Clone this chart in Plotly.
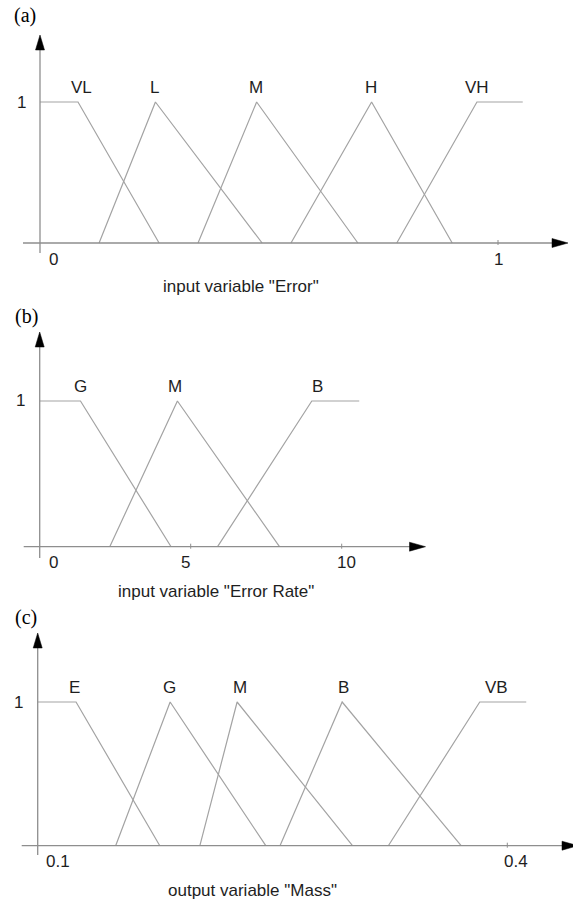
import plotly.graph_objects as go

W, H = 573, 902

# (a) input variable "Error"
err_names = ["VL", "L", "M", "H", "VH"]
err_x = [[0, 0.083, 0.26], [0.129, 0.252, 0.485], [0.345, 0.473, 0.694],
         [0.548, 0.724, 0.90], [0.779, 0.954, 1.054]]
err_y = [[1, 1, 0], [0, 1, 0], [0, 1, 0], [0, 1, 0], [0, 1, 1]]
err_label_x = [0.09, 0.249, 0.472, 0.723, 0.954]
err_ticks = [0, 1]
err_ticktext = ["0", "1"]

# (b) input variable "Error Rate"
rate_names = ["G", "M", "B"]
rate_x = [[0, 1.35, 4.35], [2.32, 4.56, 7.94], [5.89, 9.01, 10.58]]
rate_y = [[1, 1, 0], [0, 1, 0], [0, 1, 1]]
rate_label_x = [1.34, 4.48, 9.21]
rate_ticks = [0, 5, 10]
rate_ticktext = ["0", "5", "10"]

# (c) output variable "Mass"
mass_names = ["E", "G", "M", "B", "VB"]
mass_x = [[0.1, 0.1245, 0.178], [0.1498, 0.1846, 0.2457], [0.2036, 0.2274, 0.3011],
          [0.2548, 0.2945, 0.3705], [0.324, 0.3824, 0.4121]]
mass_y = [[1, 1, 0], [0, 1, 0], [0, 1, 0], [0, 1, 0], [0, 1, 1]]
mass_label_x = [0.1234, 0.1839, 0.2293, 0.2951, 0.3928]
mass_ticks = [0.1, 0.4]
mass_ticktext = ["0.1", "0.4"]

panels = [
    dict(letter="(a)", title='input variable "Error"', names=err_names, xs=err_x, ys=err_y,
         lx=err_label_x, ticks=err_ticks, ticktext=err_ticktext,
         top=0, bot=300, v=(0, 1), px=(40, 498), y0px=243, y1px=102,
         xleft=23, xtip=568, ybot=253, ytip=35,
         tshift=[13, 0], letter_pos=(24.7, 15.5), title_pos=(241, 287)),
    dict(letter="(b)", title='input variable "Error Rate"', names=rate_names, xs=rate_x, ys=rate_y,
         lx=rate_label_x, ticks=rate_ticks, ticktext=rate_ticktext,
         top=300, bot=600, v=(0, 10), px=(39.7, 341.7), y0px=546.7, y1px=401,
         xleft=23.7, xtip=425.5, ybot=558, ytip=332,
         tshift=[14, -5, 5], letter_pos=(26, 316), title_pos=(215.5, 591)),
    dict(letter="(c)", title='output variable "Mass"', names=mass_names, xs=mass_x, ys=mass_y,
         lx=mass_label_x, ticks=mass_ticks, ticktext=mass_ticktext,
         top=600, bot=902, v=(0.1, 0.4), px=(37.7, 507.3), y0px=845.7, y1px=702,
         xleft=21.7, xtip=578, ybot=855, ytip=633,
         tshift=[20, 9], letter_pos=(25.5, 617), title_pos=(252.5, 890)),
]

LINE = "#a3a3a3"
AXIS = "#8e8e8e"
TXT = "#1e1e1e"
SANS = "Liberation Sans, Arial, sans-serif"
FS = 17

fig = go.Figure()
shapes, annos = [], []
layout = {}

for i, p in enumerate(panels, start=1):
    sfx = "" if i == 1 else str(i)
    xa, ya = "x" + sfx, "y" + sfx
    v0, v1 = p["v"]
    px0, px1 = p["px"]
    sx = (px1 - px0) / (v1 - v0)
    sy = p["y0px"] - p["y1px"]
    layout["xaxis" + sfx] = dict(domain=[0, 1], anchor=ya, visible=False, fixedrange=True,
                                 range=[v0 - px0 / sx, v0 + (W - px0) / sx])
    layout["yaxis" + sfx] = dict(domain=[1 - p["bot"] / H, 1 - p["top"] / H], anchor=xa,
                                 visible=False, fixedrange=True,
                                 range=[(p["y0px"] - p["bot"]) / sy, (p["y0px"] - p["top"]) / sy])

    for name, x, y in zip(p["names"], p["xs"], p["ys"]):
        fig.add_trace(go.Scatter(x=x, y=y, mode="lines", name=name, xaxis=xa, yaxis=ya,
                                 line=dict(color=LINE, width=1.2), hoverinfo="name"))

    # axes with arrowheads
    xb = p["xtip"] - 16 - px0
    xt = p["xtip"] - px0
    yb = p["y0px"] - p["ytip"] - 15
    yt = p["y0px"] - p["ytip"]
    shapes.append(dict(type="line", xref=xa, yref=ya, xsizemode="pixel", xanchor=v0,
                       x0=p["xleft"] - px0, x1=xb + 1, y0=0, y1=0,
                       line=dict(color=AXIS, width=1.3)))
    shapes.append(dict(type="line", xref=xa, yref=ya, ysizemode="pixel", yanchor=0,
                       y0=-(p["ybot"] - p["y0px"]), y1=yb + 1, x0=v0, x1=v0,
                       line=dict(color=AXIS, width=1.3)))
    shapes.append(dict(type="path", xref=xa, yref=ya, xsizemode="pixel", ysizemode="pixel",
                       xanchor=v0, yanchor=0,
                       path=f"M{xb},-4.5 L{xt},0 L{xb},4.5 Z",
                       fillcolor="black", line=dict(color="black", width=0.5)))
    shapes.append(dict(type="path", xref=xa, yref=ya, xsizemode="pixel", ysizemode="pixel",
                       xanchor=v0, yanchor=0,
                       path=f"M-4.5,{yb} L0,{yt} L4.5,{yb} Z",
                       fillcolor="black", line=dict(color="black", width=0.5)))

    # tick marks and tick labels
    for t, txt, sh in zip(p["ticks"], p["ticktext"], p["tshift"]):
        if t != v0:
            shapes.append(dict(type="line", xref=xa, yref=ya, ysizemode="pixel", yanchor=0,
                               x0=t, x1=t, y0=-2, y1=3, line=dict(color=AXIS, width=1)))
        annos.append(dict(x=t, y=0, xref=xa, yref=ya, text=txt, showarrow=False,
                          xshift=sh, yshift=-16, xanchor="center", yanchor="middle",
                          font=dict(family=SANS, size=FS, color=TXT)))
    annos.append(dict(x=v0, y=1, xref=xa, yref=ya, text="1", showarrow=False,
                      xshift=-19, xanchor="center", yanchor="middle",
                      font=dict(family=SANS, size=FS, color=TXT)))

    # membership function labels
    for name, lx in zip(p["names"], p["lx"]):
        annos.append(dict(x=lx, y=1.1, xref=xa, yref=ya, text=name, showarrow=False,
                          xanchor="center", yanchor="middle",
                          font=dict(family=SANS, size=FS, color=TXT)))

    # panel letter and variable title
    lxp, lyp = p["letter_pos"]
    annos.append(dict(x=lxp / W, y=1 - lyp / H, xref="paper", yref="paper", text=p["letter"],
                      showarrow=False, xanchor="center", yanchor="middle",
                      font=dict(family="Liberation Serif, Times New Roman, serif", size=20, color="black")))
    txp, typ = p["title_pos"]
    annos.append(dict(x=txp / W, y=1 - typ / H, xref="paper", yref="paper", text=p["title"],
                      showarrow=False, xanchor="center", yanchor="middle",
                      font=dict(family=SANS, size=FS, color=TXT)))

fig.update_layout(width=W, height=H, margin=dict(l=0, r=0, t=0, b=0),
                  paper_bgcolor="white", plot_bgcolor="white", showlegend=False,
                  shapes=shapes, annotations=annos, **layout)

fig.write_html("out.html", config={"displayModeBar": False},
               post_script="document.body.style.margin='0';document.body.style.overflow='hidden';")
